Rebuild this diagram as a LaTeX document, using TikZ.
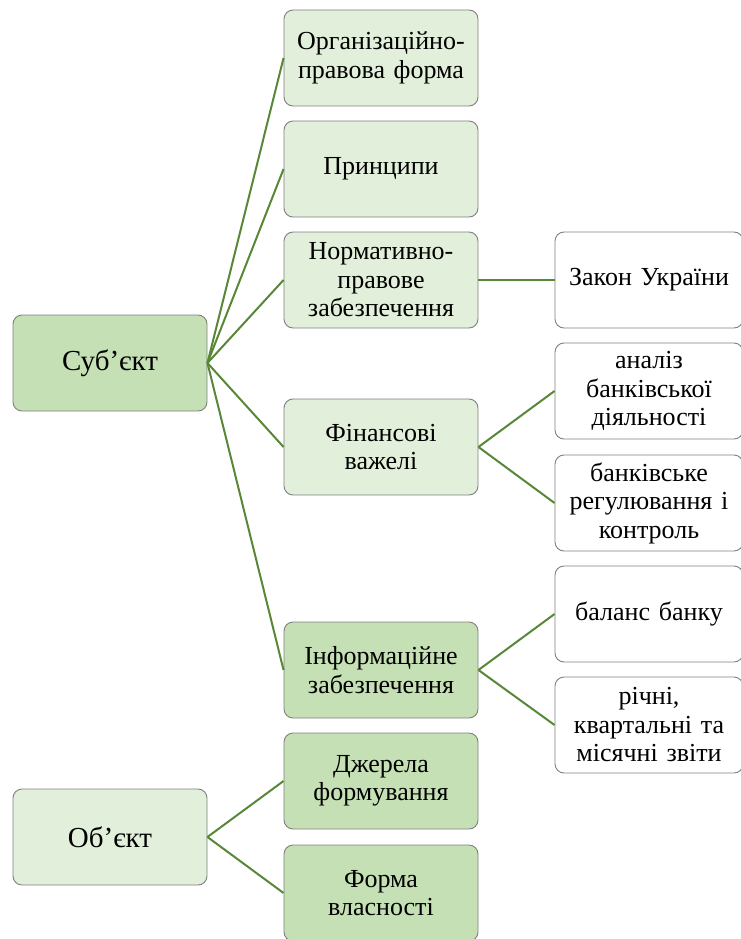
\documentclass[tikz,border=0pt]{standalone}
\usepackage{fontspec}
\setmainfont{Liberation Serif}
\definecolor{dgreen}{HTML}{C5E0B4}
\definecolor{lgreen}{HTML}{E2EFDA}
\definecolor{lnk}{RGB}{88,135,55}
\definecolor{bord}{RGB}{128,128,128}
\begin{document}
\begin{tikzpicture}[x=1pt,y=-1pt,
  box/.style={draw=bord,line width=0.9pt,rounded corners=9pt,minimum height=96pt,align=center,inner sep=2pt,
    font=\fontsize{26}{28.5}\selectfont},
  mid/.style={box,minimum width=194pt,text width=188pt},
  rgt/.style={box,minimum width=188pt,text width=184pt,fill=white},
  big/.style={box,minimum width=194pt,text width=186pt,font=\fontsize{29}{34}\selectfont},
  link/.style={draw=lnk,line width=2pt}]
\useasboundingbox (0,0) rectangle (740,939);
\node[big,fill=dgreen] (subj) at (110,363) {Суб’єкт};
\node[big,fill=lgreen] (obj) at (110,837) {Об’єкт};
\node[mid,fill=lgreen] (org) at (381,58) {Організаційно-\\правова форма};
\node[mid,fill=lgreen] (prin) at (381,169) {Принципи};
\node[mid,fill=lgreen] (norm) at (381,280) {Нормативно-\\правове\\забезпечення};
\node[mid,fill=lgreen] (fin) at (381,447) {Фінансові\\важелі};
\node[mid,fill=dgreen] (inf) at (381,670) {Інформаційне\\забезпечення};
\node[mid,fill=dgreen] (dzh) at (381,781) {Джерела\\формування};
\node[mid,fill=dgreen] (vlas) at (381,893) {Форма\\власності};
\node[rgt] (zakon) at (649,280) {Закон України};
\node[rgt] (anal) at (649,391) {аналіз\\банківської\\діяльності};
\node[rgt] (reg) at (649,503) {банківське\\регулювання і\\контроль};
\node[rgt] (bal) at (649,614) {баланс банку};
\node[rgt] (zvit) at (649,725) {річні,\\квартальні та\\місячні звіти};
\foreach \t in {org,prin,norm,fin,inf} \draw[link] (subj.east) -- (\t.west);
\foreach \t in {dzh,vlas} \draw[link] (obj.east) -- (\t.west);
\draw[link] (norm.east) -- (zakon.west);
\foreach \t in {anal,reg} \draw[link] (fin.east) -- (\t.west);
\foreach \t in {bal,zvit} \draw[link] (inf.east) -- (\t.west);
\end{tikzpicture}
\end{document}
